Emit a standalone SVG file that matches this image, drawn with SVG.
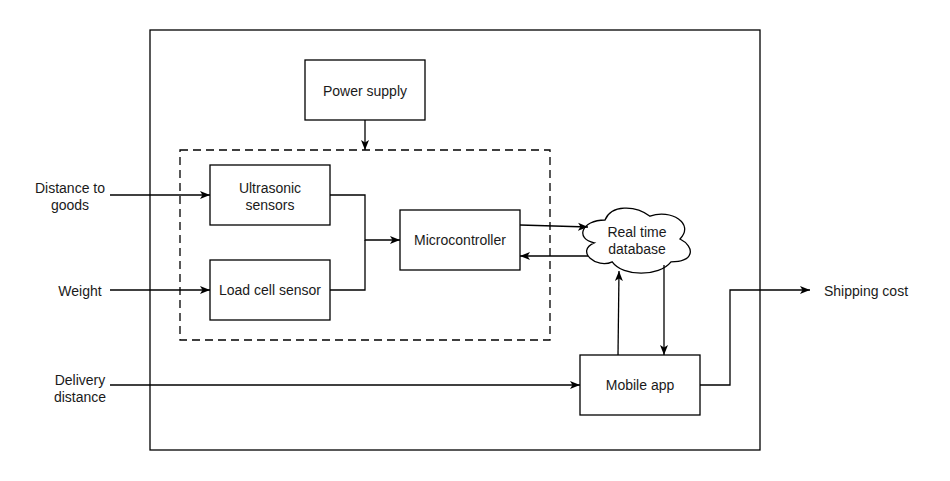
<svg xmlns="http://www.w3.org/2000/svg" width="950" height="481" viewBox="0 0 950 481">
<style>
.box{fill:#fff;stroke:#000;stroke-width:1.3}
.ln{fill:none;stroke:#000;stroke-width:1.3}
text{font-family:"Liberation Sans",Arial,sans-serif;font-size:14px;fill:#1a1a1a;text-anchor:middle}
</style>
<defs>
<marker id="ah" markerUnits="userSpaceOnUse" markerWidth="11" markerHeight="9" refX="10" refY="4.5" orient="auto">
<path d="M0,0.5 L10,4.5 L0,8.5 L2.5,4.5 Z" fill="#000"/>
</marker>
</defs>
<rect width="950" height="481" fill="#fff"/>
<g id="system"><rect x="150" y="30" width="610" height="420" fill="none" stroke="#000" stroke-width="1.3"/></g>
<g id="sensing-unit"><rect x="180" y="150" width="370" height="190" fill="none" stroke="#000" stroke-width="1.3" stroke-dasharray="8 5"/></g>
<g id="power"><rect class="box" x="305" y="60" width="120" height="60"/><text x="365" y="96">Power supply</text></g>
<g id="ultrasonic"><rect class="box" x="210" y="165" width="120" height="60"/><text x="270" y="193">Ultrasonic</text><text x="270" y="210">sensors</text></g>
<g id="loadcell"><rect class="box" x="210" y="260" width="120" height="60"/><text x="270" y="295">Load cell sensor</text></g>
<g id="micro"><rect class="box" x="400" y="210" width="120" height="60"/><text x="460" y="245">Microcontroller</text></g>
<g id="database"><path class="box" transform="translate(575,201)" d="M30,19 C6,19 0,38 19.2,41.8 C0,50.2 21.6,68.4 37.2,60.8 C48,76 84,76 96,60.8 C120,60.8 120,45.6 105,38 C120,22.8 96,7.6 75,15.2 C60,3.8 36,3.8 30,19 Z"/><text x="637" y="237">Real time</text><text x="637" y="254">database</text></g>
<g id="mobile"><rect class="box" x="580" y="355" width="120" height="60"/><text x="640" y="390">Mobile app</text></g>
<g id="labels">
<text x="70" y="193">Distance to</text><text x="70" y="210">goods</text>
<text x="80" y="296">Weight</text>
<text x="80" y="385">Delivery</text><text x="80" y="402">distance</text>
<text x="866" y="296">Shipping cost</text>
</g>
<g id="connectors">
<path class="ln" d="M365,120 L365,150" marker-end="url(#ah)"/>
<path class="ln" d="M110,195 L210,195" marker-end="url(#ah)"/>
<path class="ln" d="M110,290 L210,290" marker-end="url(#ah)"/>
<path class="ln" d="M110,385 L580,385" marker-end="url(#ah)"/>
<path class="ln" d="M330,195 L365,195 L365,240 L400,240" marker-end="url(#ah)"/>
<path class="ln" d="M330,290 L365,290 L365,240"/>
<path class="ln" d="M520,225 L588,227" marker-end="url(#ah)"/>
<path class="ln" d="M588,256 L520,256" marker-end="url(#ah)"/>
<path class="ln" d="M618,355 L619,271" marker-end="url(#ah)"/>
<path class="ln" d="M664,265 L664,355" marker-end="url(#ah)"/>
<path class="ln" d="M700,385 L730,385 L730,290 L810,290" marker-end="url(#ah)"/>
</g>
</svg>
